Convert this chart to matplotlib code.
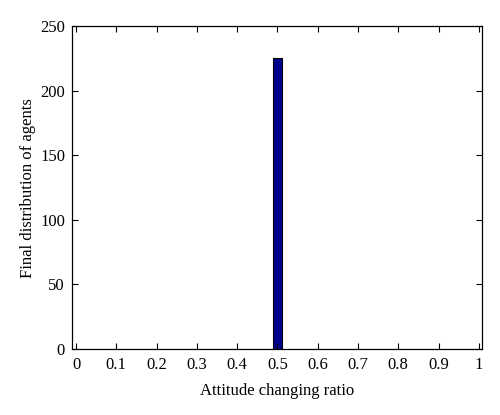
import numpy as np
import matplotlib
matplotlib.use('Agg')
import matplotlib.pyplot as plt

ratio = [0.5]
agents = [225]
xticks = [0, 0.1, 0.2, 0.3, 0.4, 0.5, 0.6, 0.7, 0.8, 0.9, 1]
xlabels = ['0', '0.1', '0.2', '0.3', '0.4', '0.5', '0.6', '0.7', '0.8', '0.9', '1']
yticks = [0, 50, 100, 150, 200, 250]

plt.rcParams['font.family'] = ['Liberation Serif', 'DejaVu Serif']
plt.rcParams['font.size'] = 12

fig = plt.figure(figsize=(5, 4.15), dpi=100)
ax = fig.add_axes([0.144, 0.159, 0.82, 0.778])

ax.bar(ratio, agents, width=0.022, color='#00008f', edgecolor='black', linewidth=0.8)

ax.set_xlim(-0.01, 1.008)
ax.set_ylim(0, 250)
ax.set_xticks(xticks)
ax.set_xticklabels(xlabels)
ax.set_yticks(yticks)
ax.tick_params(direction='in', top=True, right=True, length=4, width=0.8)
ax.tick_params(axis='x', pad=6)
ax.tick_params(axis='y', pad=5)
for s in ax.spines.values():
    s.set_linewidth(0.9)

ax.set_xlabel('Attitude changing ratio', labelpad=7)
ax.set_ylabel('Final distribution of agents', labelpad=3)

fig.savefig('out.png', dpi=100)
